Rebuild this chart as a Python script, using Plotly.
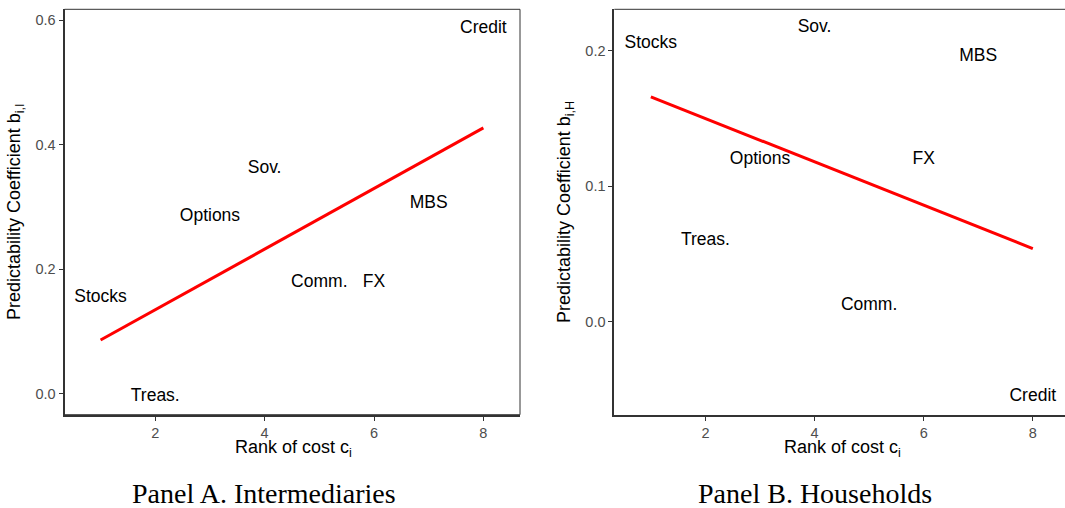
import plotly.graph_objects as go

# ---- data ----
ranks = [1, 2, 3, 4, 5, 6, 7, 8]
assets = ["Stocks", "Treas.", "Options", "Sov.", "Comm.", "FX", "MBS", "Credit"]
coef_intermediaries = [0.154, -0.005, 0.285, 0.362, 0.178, 0.178, 0.305, 0.587]
coef_households = [0.205, 0.060, 0.120, 0.217, 0.012, 0.120, 0.196, -0.055]
fit_x = [1, 8]
fit_intermediaries = [0.086, 0.427]
fit_households = [0.166, 0.054]
x_ticks = [2, 4, 6, 8]
y_ticks_a = [0.0, 0.2, 0.4, 0.6]
y_ticks_b = [0.0, 0.1, 0.2]

W, H = 1065, 508
def px(x):
    return x / W
def py(y):
    return 1 - y / H

fig = go.Figure()

LABEL_FONT = dict(family="Liberation Sans, Arial, sans-serif", size=17.5, color="black")

fig.add_trace(go.Scatter(x=ranks, y=coef_intermediaries, mode="text", text=assets,
                         textposition="middle center", textfont=LABEL_FONT,
                         xaxis="x", yaxis="y", showlegend=False, hoverinfo="skip"))
fig.add_trace(go.Scatter(x=fit_x, y=fit_intermediaries, mode="lines",
                         line=dict(color="#FF0000", width=3),
                         xaxis="x", yaxis="y", showlegend=False))
fig.add_trace(go.Scatter(x=ranks, y=coef_households, mode="text", text=assets,
                         textposition="middle center", textfont=LABEL_FONT,
                         xaxis="x2", yaxis="y2", showlegend=False, hoverinfo="skip"))
fig.add_trace(go.Scatter(x=fit_x, y=fit_households, mode="lines",
                         line=dict(color="#FF0000", width=3),
                         xaxis="x2", yaxis="y2", showlegend=False))

TICK_FONT = dict(family="Liberation Sans, Arial, sans-serif", size=14.5, color="#4D4D4D")
ydom = [py(414.7), py(9.3)]

def xaxis(domain, rng, anchor):
    return dict(domain=domain, range=rng, anchor=anchor, tickvals=x_ticks,
                ticks="outside", ticklen=4, tickwidth=1, tickcolor="#333333",
                tickfont=TICK_FONT, showgrid=False, zeroline=False,
                showline=True, linewidth=1.8, linecolor="#333333")

def yaxis(rng, anchor, tickvals):
    return dict(domain=ydom, range=rng, anchor=anchor, tickvals=tickvals,
                tickformat=".1f", ticks="outside", ticklen=4, tickwidth=1,
                tickcolor="#333333", tickfont=TICK_FONT, showgrid=False,
                zeroline=False, showline=True, linewidth=1.8, linecolor="#333333")

fig.update_layout(
    width=W, height=H,
    margin=dict(l=0, r=0, t=0, b=0),
    paper_bgcolor="white", plot_bgcolor="white",
    xaxis=xaxis([px(64.5), px(520)], [0.34, 8.67], "y"),
    yaxis=yaxis([-0.034, 0.6177], "x", y_ticks_a),
    xaxis2=xaxis([px(614.3), 1.0], [0.33, 8.59], "y2"),
    yaxis2=yaxis([-0.0686, 0.2306], "x2", y_ticks_b),
)

# thin panel borders (panel B's right edge falls outside the picture)
fig.add_shape(type="rect", xref="x domain", yref="y domain", x0=0, x1=1, y0=0, y1=1,
              line=dict(color="#333333", width=1), fillcolor="rgba(0,0,0,0)")
fig.add_shape(type="line", xref="x2 domain", yref="y2 domain", x0=0, x1=1.01, y0=1, y1=1,
              line=dict(color="#333333", width=1))

TITLE_FONT = dict(family="Liberation Sans, Arial, sans-serif", size=18, color="black")
CAP_FONT = dict(family="Liberation Serif, Times New Roman, serif", size=28, color="black")

annos = [
    dict(x=px(293), y=py(448), text="Rank of cost c<sub>i</sub>", font=TITLE_FONT),
    dict(x=px(843), y=py(448), text="Rank of cost c<sub>i</sub>", font=TITLE_FONT),
    dict(x=px(16), y=py(212), text="Predictability Coefficient b<sub>i,I</sub>",
         font=TITLE_FONT, textangle=-90),
    dict(x=px(566), y=py(212), text="Predictability Coefficient b<sub>i,H</sub>",
         font=TITLE_FONT, textangle=-90),
    dict(x=px(264), y=py(493), text="Panel A. Intermediaries", font=CAP_FONT),
    dict(x=px(815), y=py(493), text="Panel B. Households", font=CAP_FONT),
]
for a in annos:
    fig.add_annotation(xref="paper", yref="paper", showarrow=False,
                       xanchor="center", yanchor="middle", **a)

fig.write_html("out.html")
